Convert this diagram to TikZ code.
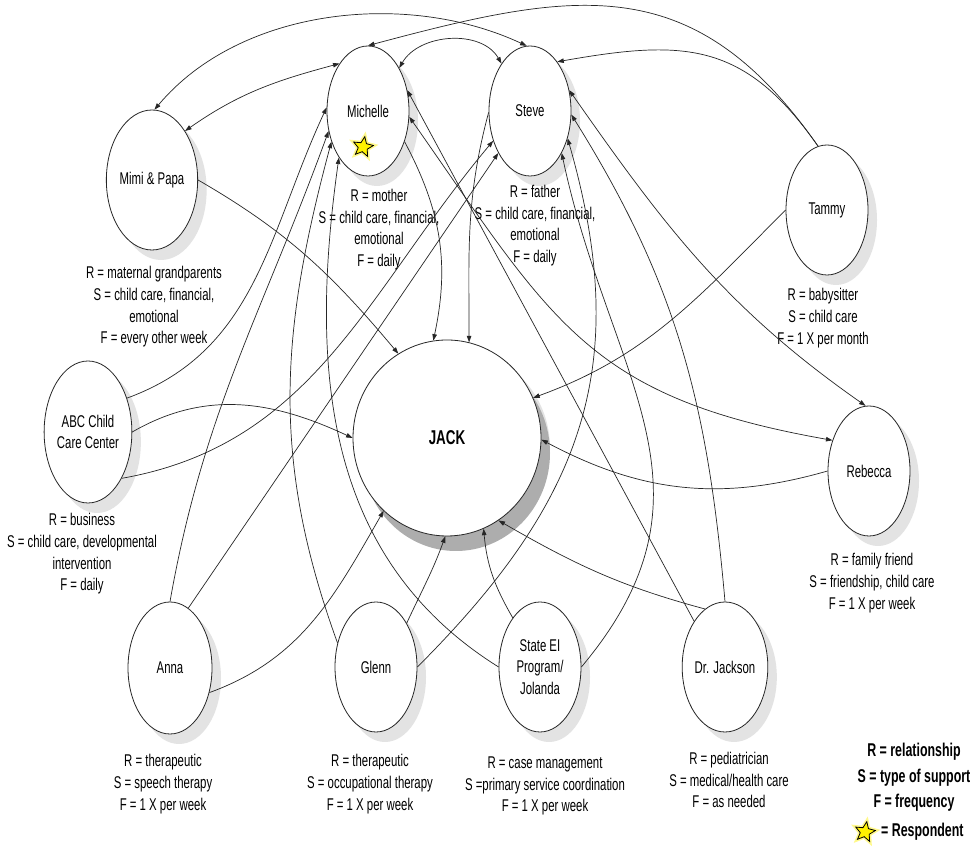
\documentclass[tikz,border=0pt]{standalone}
\usepackage{fontspec}
\setmainfont{Liberation Sans}[FakeStretch=0.67]
\usetikzlibrary{arrows.meta,positioning,shapes.geometric,shadows}

\begin{document}
\begin{tikzpicture}[x=1pt, y=1pt,
    font=\fontsize{17}{21.7}\selectfont,
    person/.style={ellipse, draw=black!85, fill=white, line width=0.8pt, inner sep=0pt,
        minimum width=82pt, minimum height=130pt, align=center,
        drop shadow={fill=black!11, opacity=1, shadow xshift=9pt, shadow yshift=-10pt}},
    info/.style={align=center, inner sep=0pt},
    link/.style={-{Triangle[length=6.5pt,width=4.5pt]}, line width=0.7pt, black!85},
    both/.style={{Triangle[length=6.5pt,width=4.5pt]}-{Triangle[length=6.5pt,width=4.5pt]}, line width=0.7pt, black!85},
    respstar/.style={star, star points=5, star point ratio=2.2, minimum size=21pt, inner sep=0pt,
        draw=black, fill=yellow, line width=0.8pt, rotate=-10,
        preaction={draw=yellow!45, line width=4pt}}]
    \useasboundingbox[fill=white] (0,0) rectangle (975,853);

    % people round the child
    \node[person] (mich) at (368,742) {Michelle};
    \node[person] (steve) at (530,742) {Steve};
    \node[person, minimum width=88pt, minimum height=140pt] (mimi) at (152,673) {Mimi \& Papa};
    \node[person] (tammy) at (827,643) {Tammy};
    \node[person, minimum height=142pt] (abc) at (88,421) {ABC Child\\Care Center};
    \node[person] (rebecca) at (869,382) {Rebecca};
    \node[person, minimum width=84pt, minimum height=132pt] (anna) at (170,185) {Anna};
    \node[person] (glenn) at (376,186) {Glenn};
    \node[person] (state) at (540,186) {State EI\\Program/\\Jolanda};
    \node[person, minimum width=80pt] (jackson) at (725,186) {Dr. Jackson};
    \node[person, minimum width=188pt, minimum height=196pt,
          font=\fontsize{20}{24}\selectfont\bfseries,
          drop shadow={fill=black!32, opacity=1, shadow xshift=9pt, shadow yshift=-15pt}] (jack) at (447,415) {JACK};

    \node[respstar] (mich-star) at (363,706) {};

    % descriptions
    \node[info] (mich-info) at (379,623.5) {R = mother\\S = child care, financial,\\emotional\\F = daily};
    \node[info] (steve-info) at (535,627.5) {R = father\\S = child care, financial,\\emotional\\F = daily};
    \node[info] (mimi-info) at (154,546) {R = maternal grandparents\\S = child care, financial,\\emotional\\F = every other week};
    \node[info] (tammy-info) at (823,535) {R = babysitter\\S = child care\\F = 1 X per month};
    \node[info] (abc-info) at (82,299) {R = business\\S = child care, developmental\\intervention\\F = daily};
    \node[info] (rebecca-info) at (872,270) {R = family friend\\S = friendship, child care\\F = 1 X per week};
    \node[info] (anna-info) at (163,69) {R = therapeutic\\S = speech therapy\\F = 1 X per week};
    \node[info] (glenn-info) at (370,69) {R = therapeutic\\S = occupational therapy\\F = 1 X per week};
    \node[info] (state-info) at (545,67) {R = case management\\S =primary service coordination\\F = 1 X per week};
    \node[info] (jackson-info) at (729,73) {R = pediatrician\\S = medical/health care\\F = as needed};

    % legend
    \node[info, font=\fontsize{18.5}{25.5}\selectfont\bfseries] (legend) at (914,75.3) {R = relationship\\S = type of support\\F = frequency};
    \node[respstar] (leg-star) at (865,21) {};
    \node[info, font=\fontsize{18.5}{22}\selectfont\bfseries, anchor=west] (leg-resp) at (881,21) {= Respondent};

    % top arcs
    \draw[both] (mimi.88) to[out=50,in=155,looseness=0.9] (steve.93);
    \draw[both] (mimi.56) to[out=35,in=195] (mich.121);
    \draw[link] (tammy.98) to[out=125,in=15,looseness=1.2] (mich.90);
    \draw[link] (tammy.98) to[out=125,in=10,looseness=1.2] (steve.61);
    \draw[both] (mich.54) to[out=60,in=120] (steve.121);

    % into JACK
    \draw[link] (mimi.0) to[out=-30,in=130] (jack.120);
    \draw[link] (mich.-40) to[out=-62,in=78] (jack.98);
    \draw[link] (steve.182) to[out=-105,in=90] (jack.77);
    \draw[link] (tammy.180) to[out=225,in=20] (jack.25);
    \draw[link] (rebecca.180) to[out=196,in=-28] (jack.-1);
    \draw[link] (abc.0) to[out=30,in=155] (jack.180);
    \draw[link] (anna.-32) to[out=20,in=240] (jack.229);
    \draw[link] (glenn.55) to[out=65,in=250] (jack.269);
    \draw[link] (state.119) to[out=120,in=275] (jack.292);
    \draw[link] (jackson.109) to[out=165,in=-30] (jack.302);

    % Rebecca
    \draw[both] (mich.-8) to[out=-55,in=170,looseness=1.2] (rebecca.140);
    \draw[both] (steve.28) to[out=-55,in=145] (rebecca.93);

    % up to the parents
    \draw[link] (abc.41) to[out=20,in=245] (mich.175);
    \draw[link] (abc.-54) to[out=10,in=230] (steve.219);
    \draw[link] (anna.90) to[out=80,in=250] (mich.207);
    \draw[link] (anna.73) -- (steve.233);
    \draw[link] (glenn.148) to[out=110,in=255] (mich.220);
    \draw[link] (glenn.0) to[out=45,in=-74,looseness=1.1] (steve.-36);
    \draw[link] (state.180) to[out=148,in=262] (mich.238);
    \draw[link] (state.0) to[out=50,in=-78,looseness=1.15] (steve.-53);
    \draw[link] (jackson.124) -- (mich.28);
    \draw[link] (jackson.90) to[out=95,in=-58] (steve.-5);
\end{tikzpicture}
\end{document}
